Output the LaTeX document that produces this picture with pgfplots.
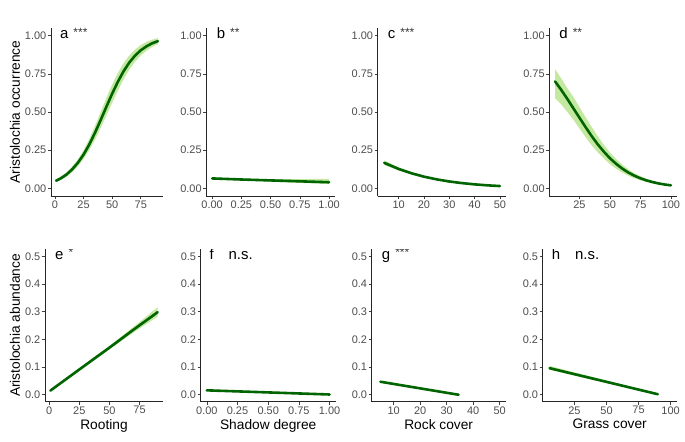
\documentclass[border=0pt]{standalone}
\usepackage{fontspec}
\setmainfont{Liberation Sans}
\usepackage{pgfplots}
\pgfplotsset{compat=1.18}
\usepackage{pgfplotstable}
\usepgfplotslibrary{fillbetween}
\definecolor{ribbon}{RGB}{196,232,160}
\definecolor{fitline}{RGB}{0,100,0}
\definecolor{tickgrey}{RGB}{77,77,77}

\pgfplotstableread{
x p lo hi
1 0.050 0.040 0.060
5 0.065 0.054 0.076
10 0.090 0.076 0.104
15 0.124 0.106 0.142
20 0.167 0.145 0.189
25 0.221 0.193 0.249
30 0.287 0.251 0.323
35 0.364 0.319 0.409
40 0.448 0.395 0.501
45 0.535 0.477 0.593
50 0.620 0.560 0.680
55 0.698 0.640 0.756
60 0.767 0.714 0.820
65 0.824 0.778 0.870
70 0.869 0.829 0.909
75 0.904 0.870 0.938
80 0.930 0.901 0.959
85 0.950 0.926 0.974
90 0.964 0.944 0.984
}\tabA
\pgfplotstableread{
x p lo hi
0 0.065 0.059 0.071
0.25 0.058 0.052 0.064
0.5 0.052 0.044 0.060
0.75 0.046 0.036 0.061
1 0.040 0.028 0.062
}\tabB
\pgfplotstableread{
x p lo hi
4.3 0.167 0.152 0.183
10 0.127 0.117 0.137
15 0.099 0.092 0.106
20 0.0765 0.071 0.082
25 0.059 0.054 0.064
30 0.045 0.041 0.049
35 0.0344 0.031 0.038
40 0.0262 0.023 0.029
45 0.0199 0.017 0.023
50 0.0151 0.012 0.018
}\tabC
\pgfplotstableread{
x p lo hi
5 0.700 0.590 0.780
10 0.645 0.550 0.720
15 0.586 0.501 0.656
20 0.524 0.449 0.599
25 0.462 0.392 0.532
30 0.401 0.336 0.466
35 0.342 0.282 0.402
40 0.288 0.236 0.340
45 0.240 0.195 0.285
50 0.197 0.159 0.235
55 0.161 0.129 0.193
60 0.130 0.104 0.156
65 0.104 0.083 0.125
70 0.083 0.066 0.100
75 0.066 0.053 0.079
80 0.052 0.042 0.062
85 0.041 0.033 0.049
90 0.032 0.026 0.038
95 0.025 0.020 0.030
100 0.020 0.016 0.024
}\tabD
\pgfplotstableread{
x p lo hi
1 0.015 0.012 0.018
30 0.107 0.102 0.112
50 0.170 0.164 0.176
70 0.235 0.225 0.245
90 0.298 0.282 0.316
}\tabE
\pgfplotstableread{
x p lo hi
0 0.016 0.013 0.019
1 0.001 0.000 0.003
}\tabF
\pgfplotstableread{
x p lo hi
5 0.047 0.044 0.050
34.5 0.000 -0.002 0.002
}\tabG
\pgfplotstableread{
x p lo hi
5.6 0.096 0.090 0.104
90 0.002 0.000 0.004
}\tabH

\pgfplotsset{
  panel/.style={
    scale only axis, anchor=south west,
    axis x line*=bottom, axis y line*=left,
    axis line style={-, line width=0.6bp, black!85},
    tick align=outside, major tick length=3bp,
    tick style={line width=0.6bp, black!75},
    ticklabel style={font=\fontsize{11}{12}\selectfont, text=tickgrey},
    xticklabel style={inner sep=1.5bp},
    yticklabel style={inner sep=1.5bp},
    /pgf/number format/assume math mode=true,
    label style={font=\fontsize{13.8}{15}\selectfont, text=black},
    clip=true,
  },
  toprow/.style={panel, height=168bp, ymin=-0.05, ymax=1.05,
    ytick={0,0.25,0.5,0.75,1}, yticklabels={0.00,0.25,0.50,0.75,1.00}},
  botrow/.style={panel, height=152.4bp, ymin=-0.025, ymax=0.525,
    ytick={0,0.1,0.2,0.3,0.4,0.5}, yticklabels={0.0,0.1,0.2,0.3,0.4,0.5}},
}
\newcommand{\panelfit}[1]{%
  \addplot[draw=none, name path=lo, forget plot] table[x=x,y=lo] {#1};
  \addplot[draw=none, name path=hi, forget plot] table[x=x,y=hi] {#1};
  \addplot[ribbon, forget plot] fill between[of=lo and hi];
  \addplot[fitline, line width=2.6bp, line cap=round] table[x=x,y=p] {#1};
}
\newcommand{\plabel}[2]{\node[anchor=base west, inner sep=0pt, font=\fontsize{15}{16}\selectfont] at (rel axis cs:#1,0.936) {#2};}
\newcommand{\stars}[1]{\hspace{5bp}\raisebox{2.5bp}{\fontsize{12}{12}\selectfont\color{black!80}#1}}

\begin{document}
\begin{tikzpicture}
% top row
\begin{axis}[toprow, at={(51bp,246bp)}, width=112bp, xmin=-3.45, xmax=94.45,
  xtick={0,25,50,75}, xticklabels={0,25,50,75}, ylabel={Aristolochia occurrence}]
\panelfit{\tabA}
\plabel{0.08}{a\stars{***}}
\end{axis}
\begin{axis}[toprow, at={(206.3bp,246bp)}, width=128.7bp, xmin=-0.05, xmax=1.05,
  xtick={0,0.25,0.5,0.75,1}, xticklabels={0.00,0.25,0.50,0.75,1.00}]
\panelfit{\tabB}
\plabel{0.08}{b\stars{**}}
\end{axis}
\begin{axis}[toprow, at={(377.7bp,246bp)}, width=128bp, xmin=1.7, xmax=52.3,
  xtick={10,20,30,40,50}, xticklabels={10,20,30,40,50}]
\panelfit{\tabC}
\plabel{0.078}{c\stars{***}}
\end{axis}
\begin{axis}[toprow, at={(549.3bp,246bp)}, width=127.4bp, xmin=0.25, xmax=104.75,
  xtick={25,50,75,100}, xticklabels={25,50,75,100}]
\panelfit{\tabD}
\plabel{0.078}{d\stars{**}}
\end{axis}
% bottom row
\begin{axis}[botrow, at={(45bp,40.3bp)}, width=118bp, xmin=-3.45, xmax=94.45,
  xtick={0,25,50,75}, xticklabels={0,25,50,75}, ylabel={Aristolochia abundance}, xlabel={Rooting}]
\panelfit{\tabE}
\plabel{0.085}{e\stars{*}}
\end{axis}
\begin{axis}[botrow, at={(200.7bp,40.3bp)}, width=135bp, xmin=-0.05, xmax=1.05,
  xtick={0,0.25,0.5,0.75,1}, xticklabels={0.00,0.25,0.50,0.75,1.00}, xlabel={Shadow degree}]
\panelfit{\tabF}
\plabel{0.064}{f\hspace{15bp}n.s.}
\end{axis}
\begin{axis}[botrow, at={(371.7bp,40.3bp)}, width=134bp, xmin=1.7, xmax=52.3,
  xtick={10,20,30,40,50}, xticklabels={10,20,30,40,50}, xlabel={Rock cover}]
\panelfit{\tabG}
\plabel{0.075}{g\stars{***}}
\end{axis}
\begin{axis}[botrow, at={(542.7bp,40.3bp)}, width=134bp, xmin=0.25, xmax=104.75,
  xtick={25,50,75,100}, xticklabels={25,50,75,100}, xlabel={Grass cover}]
\panelfit{\tabH}
\plabel{0.067}{h\hspace{15bp}n.s.}
\end{axis}
\path (0,0) rectangle (685bp,442bp);
\end{tikzpicture}
\end{document}
